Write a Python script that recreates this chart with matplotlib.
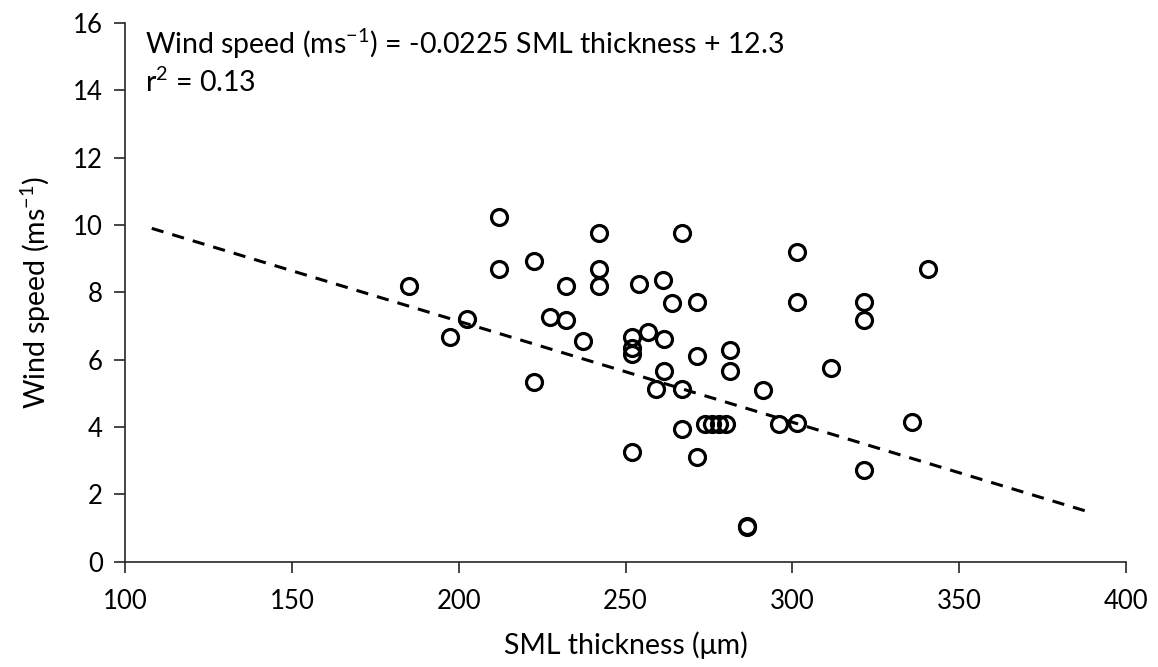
import matplotlib
matplotlib.use("Agg")
import matplotlib.pyplot as plt

plt.rcParams['font.family'] = ['Lato', 'DejaVu Sans']
plt.rcParams['mathtext.fontset'] = 'custom'
plt.rcParams['mathtext.rm'] = 'Lato'
plt.rcParams['mathtext.it'] = 'Lato:italic'
plt.rcParams['mathtext.bf'] = 'Lato:bold'

sml_thickness = [185.2, 197.4, 202.4, 212.2, 212.2, 222.4, 222.4, 227.2, 232.1, 232.1,
                 237.2, 242.0, 242.0, 242.0, 251.8, 251.8, 251.8, 251.8, 254.0, 256.7,
                 261.3, 261.6, 261.6, 263.8, 266.8, 259.0, 266.8, 266.8, 271.5, 271.5,
                 271.5, 273.8, 275.9, 278.0, 280.1, 281.4, 281.4, 286.4, 286.4, 291.3,
                 296.1, 301.3, 301.3, 301.3, 311.5, 321.3, 321.3, 321.3, 335.7, 340.7]
wind_speed = [8.19, 6.66, 7.21, 10.24, 8.69, 8.93, 5.35, 7.27, 8.19, 7.19,
              6.56, 9.75, 8.69, 8.19, 6.68, 6.36, 6.17, 3.27, 8.26, 6.81,
              8.36, 6.62, 5.66, 7.68, 9.75, 5.12, 5.12, 3.95, 7.70, 6.12,
              3.10, 4.10, 4.10, 4.10, 4.10, 6.29, 5.65, 1.03, 1.06, 5.10,
              4.09, 9.21, 7.70, 4.11, 5.74, 7.70, 7.18, 2.71, 4.14, 8.69]

trend_x = [108.0, 388.0]
trend_y = [9.90, 1.50]

x_ticks = [100, 150, 200, 250, 300, 350, 400]
y_ticks = [0, 2, 4, 6, 8, 10, 12, 14, 16]

fig = plt.figure(figsize=(11.58, 6.67), dpi=100)
ax = fig.add_axes([0.108, 0.158, 0.8645, 0.8075])

ax.plot(trend_x, trend_y, linestyle=(0, (4, 3)), color='black', linewidth=2.2, zorder=2)
ax.plot(sml_thickness, wind_speed, linestyle='none', marker='o', markersize=11.5,
        markerfacecolor='none', markeredgecolor='black', markeredgewidth=2.3, zorder=3)

ax.set_xlim(100, 400)
ax.set_ylim(0, 16)
ax.set_xticks(x_ticks)
ax.set_yticks(y_ticks)

for s in ['top', 'right']:
    ax.spines[s].set_visible(False)
for s in ['left', 'bottom']:
    ax.spines[s].set_color('#262626')
    ax.spines[s].set_linewidth(1.2)

ax.tick_params(axis='both', direction='out', length=8, width=1.2, color='#262626',
               labelsize=18.5, labelcolor='black')
ax.tick_params(axis='x', pad=12)
ax.tick_params(axis='y', pad=8)

ax.set_xlabel('SML thickness (μm)', fontsize=20.5, labelpad=12)
ax.set_ylabel('Wind speed (ms$^{-1}$)', fontsize=20.5, labelpad=14)

ax.text(0.02, 0.961, 'Wind speed (ms$^{-1}$) = -0.0225 SML thickness + 12.3',
        transform=ax.transAxes, fontsize=20.5, ha='left', va='center')
ax.text(0.02, 0.890, 'r$^{2}$ = 0.13', transform=ax.transAxes, fontsize=20.5,
        ha='left', va='center')

fig.savefig('out.png', dpi=100, facecolor='white')
